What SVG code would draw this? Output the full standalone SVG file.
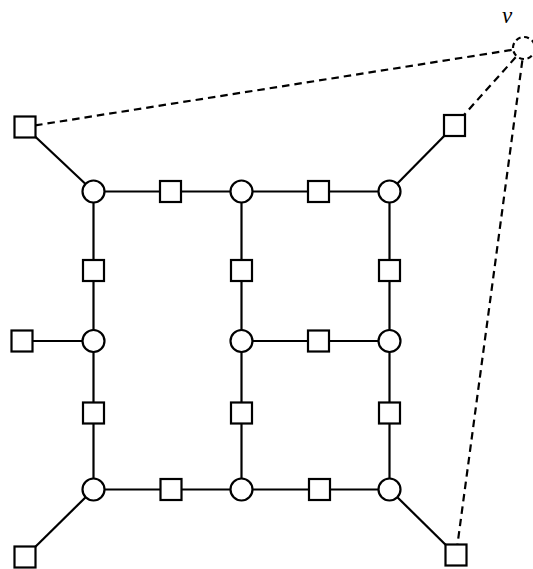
<svg xmlns="http://www.w3.org/2000/svg" width="533" height="569" viewBox="0 0 533 569">
<style>
.e{stroke:#000;stroke-width:2.2;fill:none}
.d{stroke:#000;stroke-width:2.2;fill:none;stroke-dasharray:7.5 5}
.c{fill:#fff;stroke:#000;stroke-width:2.2}
.s{fill:#fff;stroke:#000;stroke-width:2.2}
.vc{fill:#fff;stroke:#000;stroke-width:2.2;stroke-dasharray:5 3.6}
.lbl{font-family:"Liberation Serif","DejaVu Serif",serif;font-style:italic;font-size:23px;fill:#000}
</style>
<rect width="533" height="569" fill="#fff"/>
<g id="connectors">
<line class="e" x1="93.5" y1="191.5" x2="389.5" y2="191.5"/>
<line class="e" x1="93.5" y1="191.5" x2="93.5" y2="489.5"/>
<line class="e" x1="241.5" y1="191.5" x2="241.5" y2="489.5"/>
<line class="e" x1="389.5" y1="191.5" x2="389.5" y2="489.5"/>
<line class="e" x1="22" y1="341" x2="93.5" y2="341"/>
<line class="e" x1="241.5" y1="341" x2="389.5" y2="341"/>
<line class="e" x1="93.5" y1="489.5" x2="389.5" y2="489.5"/>
<line class="e" x1="25" y1="127" x2="93.5" y2="191.5"/>
<line class="e" x1="454.5" y1="125.5" x2="389.5" y2="191.5"/>
<line class="e" x1="25" y1="557" x2="93.5" y2="489.5"/>
<line class="e" x1="456" y1="555" x2="389.5" y2="489.5"/>
<line class="d" x1="524" y1="48" x2="25" y2="127"/>
<line class="d" x1="524" y1="48" x2="454.5" y2="125.5"/>
<line class="d" x1="524" y1="48" x2="457" y2="548"/>
</g>
<g id="c1"><circle class="c" cx="93.5" cy="191.5" r="11"/></g>
<g id="c2"><circle class="c" cx="241.5" cy="191.5" r="11"/></g>
<g id="c3"><circle class="c" cx="389.5" cy="191.5" r="11"/></g>
<g id="c4"><circle class="c" cx="93.5" cy="341" r="11"/></g>
<g id="c5"><circle class="c" cx="241.5" cy="341" r="11"/></g>
<g id="c6"><circle class="c" cx="389.5" cy="341" r="11"/></g>
<g id="c7"><circle class="c" cx="93.5" cy="489.5" r="11"/></g>
<g id="c8"><circle class="c" cx="241.5" cy="489.5" r="11"/></g>
<g id="c9"><circle class="c" cx="389.5" cy="489.5" r="11"/></g>
<g id="s-tl"><rect class="s" x="14.5" y="116.5" width="21" height="21"/></g>
<g id="s-tr"><rect class="s" x="444" y="115" width="21" height="21"/></g>
<g id="s-bl"><rect class="s" x="14.5" y="546.5" width="21" height="21"/></g>
<g id="s-br"><rect class="s" x="445.5" y="544.5" width="21" height="21"/></g>
<g id="s-h1"><rect class="s" x="160" y="181" width="21" height="21"/></g>
<g id="s-h2"><rect class="s" x="308" y="181" width="21" height="21"/></g>
<g id="s-v1"><rect class="s" x="83" y="260" width="21" height="21"/></g>
<g id="s-v2"><rect class="s" x="231" y="260" width="21" height="21"/></g>
<g id="s-v3"><rect class="s" x="379" y="260" width="21" height="21"/></g>
<g id="s-l"><rect class="s" x="11.5" y="330.5" width="21" height="21"/></g>
<g id="s-h3"><rect class="s" x="308" y="330.5" width="21" height="21"/></g>
<g id="s-v4"><rect class="s" x="83" y="402.5" width="21" height="21"/></g>
<g id="s-v5"><rect class="s" x="231" y="402.5" width="21" height="21"/></g>
<g id="s-v6"><rect class="s" x="379" y="402.5" width="21" height="21"/></g>
<g id="s-h4"><rect class="s" x="160.5" y="479" width="21" height="21"/></g>
<g id="s-h5"><rect class="s" x="309" y="479" width="21" height="21"/></g>
<g id="v"><circle class="vc" cx="524" cy="48" r="11"/><text class="lbl" x="507" y="23" text-anchor="middle">v</text></g>
</svg>
